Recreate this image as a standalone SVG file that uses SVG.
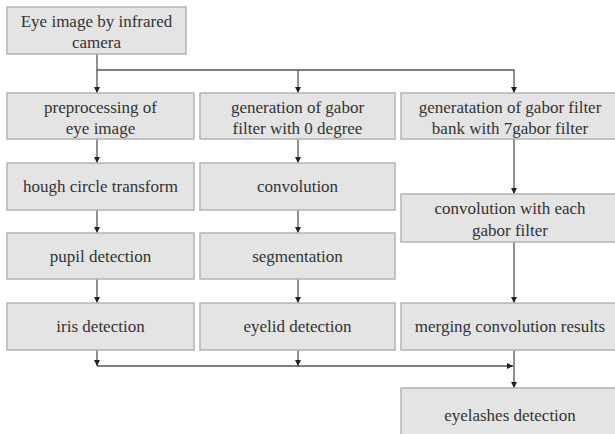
<svg xmlns="http://www.w3.org/2000/svg" width="615" height="434" viewBox="0 0 615 434">
<defs>
<marker id="ah" markerWidth="8" markerHeight="8" refX="7" refY="4" orient="auto" markerUnits="userSpaceOnUse">
<path d="M1,1 L7,4 L1,7 Z" fill="#222"/>
</marker>
</defs>
<rect width="615" height="434" fill="#fff"/>
<g id="connectors" fill="none" stroke="#555" stroke-width="1.3">
<path d="M97,54 V70 H514 V93" marker-end="url(#ah)"/>
<path d="M97,70 V93" marker-end="url(#ah)"/>
<path d="M298,70 V93" marker-end="url(#ah)"/>
<path d="M97,139 V163" marker-end="url(#ah)"/>
<path d="M298,139 V163" marker-end="url(#ah)"/>
<path d="M514,139 V194" marker-end="url(#ah)"/>
<path d="M97,210 V233" marker-end="url(#ah)"/>
<path d="M298,210 V233" marker-end="url(#ah)"/>
<path d="M97,279 V303" marker-end="url(#ah)"/>
<path d="M298,279 V303" marker-end="url(#ah)"/>
<path d="M514,242 V303" marker-end="url(#ah)"/>
<path d="M97,350 V366" marker-end="url(#ah)"/>
<path d="M298,350 V366" marker-end="url(#ah)"/>
<path d="M97,366 H513" marker-end="url(#ah)"/>
<path d="M514,350 V388" marker-end="url(#ah)"/>
</g>
<g id="nodes" fill="#e4e4e4" stroke="#b4b4b4" stroke-width="1.5">
<g id="n-eye"><rect x="7" y="7" width="179" height="47"/></g>
<g id="n-pre"><rect x="7" y="93" width="187" height="46"/></g>
<g id="n-gen0"><rect x="200" y="93" width="195" height="46"/></g>
<g id="n-bank"><rect x="401" y="93" width="220" height="46"/></g>
<g id="n-hough"><rect x="7" y="163" width="187" height="47"/></g>
<g id="n-conv"><rect x="200" y="163" width="195" height="47"/></g>
<g id="n-conveach"><rect x="401" y="194" width="220" height="48"/></g>
<g id="n-pupil"><rect x="7" y="233" width="187" height="46"/></g>
<g id="n-seg"><rect x="200" y="233" width="195" height="46"/></g>
<g id="n-iris"><rect x="7" y="303" width="187" height="47"/></g>
<g id="n-eyelid"><rect x="200" y="303" width="195" height="47"/></g>
<g id="n-merge"><rect x="401" y="303" width="220" height="47"/></g>
<g id="n-lash"><rect x="401" y="388" width="220" height="52"/></g>
</g>
<g id="labels" style="font-family:'Liberation Serif',serif" font-size="17" fill="#333" text-anchor="middle">
<text x="96.5" y="27" style="font-family:'Liberation Serif',serif">Eye image by infrared</text>
<text x="96.5" y="48" style="font-family:'Liberation Serif',serif">camera</text>
<text x="100.5" y="113" style="font-family:'Liberation Serif',serif">preprocessing of</text>
<text x="100.5" y="134" style="font-family:'Liberation Serif',serif">eye image</text>
<text x="297.5" y="113" style="font-family:'Liberation Serif',serif">generation of gabor</text>
<text x="297.5" y="134" style="font-family:'Liberation Serif',serif">filter with 0 degree</text>
<text x="510" y="113" style="font-family:'Liberation Serif',serif">generatation of gabor filter</text>
<text x="510" y="134" style="font-family:'Liberation Serif',serif">bank with 7gabor filter</text>
<text x="100.5" y="192" style="font-family:'Liberation Serif',serif">hough circle transform</text>
<text x="297.5" y="192" style="font-family:'Liberation Serif',serif">convolution</text>
<text x="510" y="214" style="font-family:'Liberation Serif',serif">convolution with each</text>
<text x="510" y="236" style="font-family:'Liberation Serif',serif">gabor filter</text>
<text x="100.5" y="262" style="font-family:'Liberation Serif',serif">pupil detection</text>
<text x="297.5" y="262" style="font-family:'Liberation Serif',serif">segmentation</text>
<text x="100.5" y="332" style="font-family:'Liberation Serif',serif">iris detection</text>
<text x="297.5" y="332" style="font-family:'Liberation Serif',serif">eyelid detection</text>
<text x="510" y="332" style="font-family:'Liberation Serif',serif">merging convolution results</text>
<text x="510" y="421" style="font-family:'Liberation Serif',serif">eyelashes detection</text>
</g>
</svg>
